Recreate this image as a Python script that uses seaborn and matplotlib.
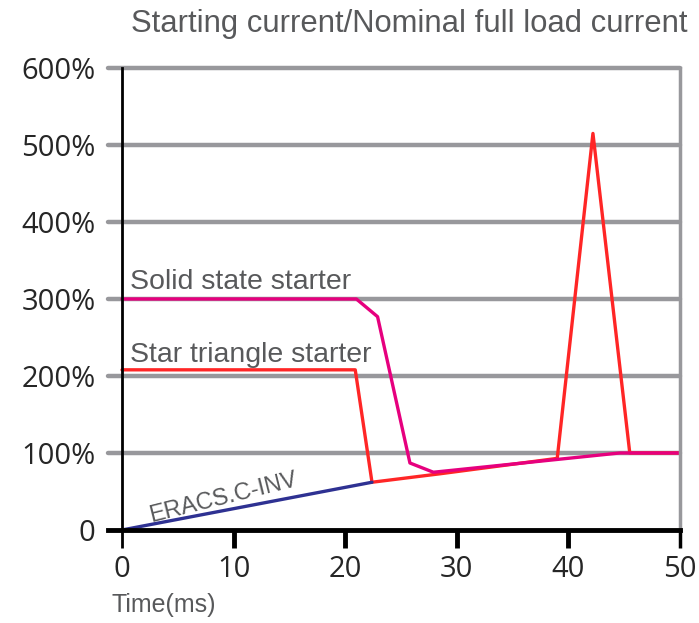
import matplotlib
matplotlib.use("Agg")
import matplotlib.pyplot as plt
import seaborn as sns
import pandas as pd

sns.set_style("white")

# data (time in ms, current in %)
eracs_time = [0, 22.4]
eracs_current = [0, 62]

star_time = [0, 20.9, 22.4, 28.5, 39.0, 42.2, 45.5, 50]
star_current = [208, 208, 62, 73, 93, 515, 100, 100]

solid_time = [0, 21.0, 22.9, 25.8, 27.9, 44.6, 50]
solid_current = [300, 300, 277, 87, 75, 100, 100]

x_ticks = [0, 10, 20, 30, 40, 50]
y_ticks = [0, 100, 200, 300, 400, 500, 600]
y_labels = ["0", "100%", "200%", "300%", "400%", "500%", "600%"]

plt.rcParams['font.family'] = ['Open Sans', 'DejaVu Sans']

text_gray = '#58595b'
grid_gray = '#98989c'
c_blue = '#2e3192'
c_red = '#ff2626'
c_pink = '#e6007e'

fig = plt.figure(figsize=(6.99, 6.23), dpi=100)
ax = fig.add_axes([0.1538, 0.1493, 0.9728 - 0.1538, 0.8909 - 0.1493])

# grid lines (drawn as thick gray bars, including the top one)
for yv in y_ticks[1:]:
    ax.axhline(yv, color=grid_gray, lw=3.2, zorder=1, clip_on=False)

df_eracs = pd.DataFrame({'t': eracs_time, 'c': eracs_current})
df_star = pd.DataFrame({'t': star_time, 'c': star_current})
df_solid = pd.DataFrame({'t': solid_time, 'c': solid_current})

sns.lineplot(data=df_star, x='t', y='c', sort=False, color=c_red, lw=2.4, ax=ax, zorder=3)
sns.lineplot(data=df_solid, x='t', y='c', sort=False, color=c_pink, lw=2.4, ax=ax, zorder=4)
sns.lineplot(data=df_eracs, x='t', y='c', sort=False, color=c_blue, lw=2.4, ax=ax, zorder=5)

ax.set_xlim(-1.3, 50)
ax.set_ylim(0, 600)

# spines
ax.spines['top'].set_visible(False)
ax.spines['left'].set_position(('data', 0))
ax.spines['left'].set_color('black')
ax.spines['left'].set_linewidth(2)
ax.spines['bottom'].set_color('black')
ax.spines['bottom'].set_linewidth(3.5)
ax.spines['right'].set_color(grid_gray)
ax.spines['right'].set_linewidth(2.5)
for sp in ax.spines.values():
    sp.set_zorder(6)

ax.set_xticks(x_ticks)
ax.set_xticklabels([str(v) for v in x_ticks])
ax.set_yticks(y_ticks)
ax.set_yticklabels(y_labels)
ax.tick_params(axis='x', direction='out', length=13, width=3.5, color='black',
               labelsize=21, pad=5, bottom=True)
ax.tick_params(axis='y', length=0, labelsize=21, pad=19)
ax.xaxis.get_major_ticks()[0].tick1line.set_markeredgewidth(2)
ax.xaxis.get_major_ticks()[-1].tick1line.set_color(grid_gray)
ax.xaxis.get_major_ticks()[-1].tick1line.set_markeredgewidth(2.5)
ax.set_xlabel('')
ax.set_ylabel('')

# curve labels
ax.text(0.7, 313, 'Solid state starter', color=text_gray, fontsize=20.5,
        family='Liberation Sans', va='baseline', ha='left')
ax.text(0.7, 218, 'Star triangle starter', color=text_gray, fontsize=20.5,
        family='Liberation Sans', va='baseline', ha='left')
ax.text(9.1, 42, 'ERACS.C-INV', color=text_gray, fontsize=17, family='Liberation Sans',
        rotation=14, rotation_mode='anchor', va='center', ha='center')

fig.text(0.585, 0.962, 'Starting current/Nominal full load current', color=text_gray,
         fontsize=22.3, family='Liberation Sans', ha='center', va='center')
fig.text(0.16, 0.029, 'Time(ms)', color=text_gray, fontsize=18, family='Liberation Sans',
         ha='left', va='center')

fig.savefig('out.png', dpi=100)
